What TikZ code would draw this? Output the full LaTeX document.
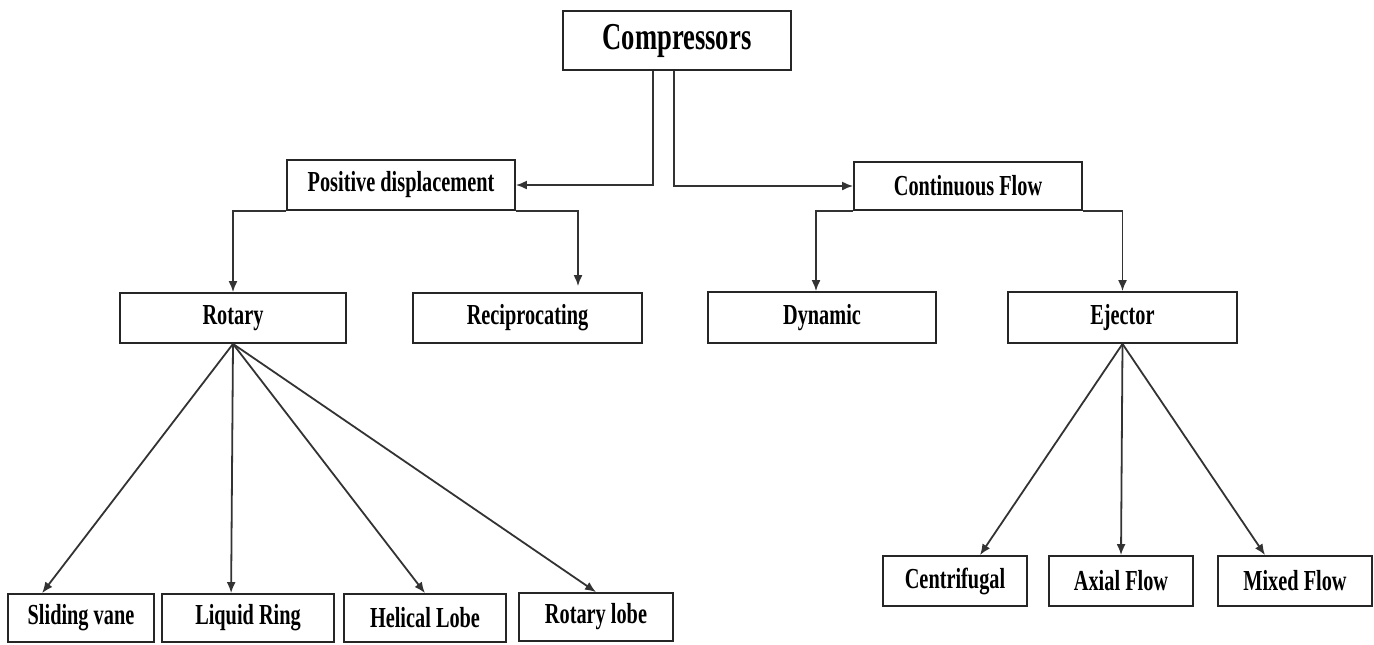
\documentclass[tikz,border=0pt]{standalone}
\usepackage{fontspec}
\setmainfont{Liberation Serif}[FakeStretch=0.7]
\usetikzlibrary{calc,arrows.meta}
\begin{document}
\begin{tikzpicture}[x=0.5pt,y=-0.5pt,
  box/.style={draw=black!85,line width=0.9pt,rectangle,inner sep=0pt,
    font=\fontsize{14.5}{16}\selectfont\bfseries,text=black},
  arr/.style={draw=black!80,line width=0.9pt,-{Latex[length=5.5pt,width=4.5pt]}},
  ln/.style={draw=black!80,line width=0.9pt}]
\useasboundingbox (0,0) rectangle (1374,644);
% nodes
\node[box,minimum width=114pt,minimum height=29.5pt,font=\fontsize{19}{22}\selectfont\bfseries] (comp) at (677,40.5) {Compressors};
\node[box,minimum width=114pt,minimum height=25pt] (pd) at (401,185) {Positive displacement};
\node[box,minimum width=114pt,minimum height=24pt] (cf) at (968,186) {Continuous Flow};
\node[box,minimum width=113pt,minimum height=25pt] (rot) at (233,318) {Rotary};
\node[box,minimum width=114.5pt,minimum height=25pt] (rec) at (527.5,318) {Reciprocating};
\node[box,minimum width=114pt,minimum height=25.5pt] (dyn) at (822,317.5) {Dynamic};
\node[box,minimum width=114.5pt,minimum height=25.5pt] (ej) at (1122.5,317.5) {Ejector};
\node[box,minimum width=73pt,minimum height=24pt] (sv) at (81,618) {Sliding vane};
\node[box,minimum width=86pt,minimum height=24pt] (lr) at (248,618) {Liquid Ring};
\node[box,minimum width=81pt,minimum height=24pt] (hl) at (425,618) {Helical Lobe};
\node[box,minimum width=77pt,minimum height=24pt] (rl) at (596,617) {Rotary lobe};
\node[box,minimum width=72pt,minimum height=25pt] (cen) at (955,581) {Centrifugal};
\node[box,minimum width=72pt,minimum height=25pt] (ax) at (1121,581) {Axial Flow};
\node[box,minimum width=77pt,minimum height=25pt] (mx) at (1295,581) {Mixed Flow};
% level 1
\draw[arr] ($(comp.south)+(-24,0)$) |- (pd.east);
\draw[arr] ($(comp.south)+(-3,0)$) |- (cf.west);
% level 2
\draw[arr] (pd.south west) -| (rot.north);
\draw[arr] (pd.south east) -| ($(rec.north)+(50.5,-6)$);
\draw[arr] (cf.south west) -| ($(dyn.north)+(-6,0)$);
\draw[arr] (cf.south east) -| (ej.north);
% rotary fan
\draw[arr] (rot.south) -- ($(sv.north west)+(35,0)$);
\draw[arr] (rot.south) -- ($(lr.north west)+(70,0)$);
\draw[arr] (rot.south) -- (hl.north);
\draw[arr] (rot.south) -- (rl.north);
% ejector fan
\draw[arr] (ej.south) -- ($(cen.north)+(25,0)$);
\draw[arr] (ej.south) -- (ax.north);
\draw[arr] (ej.south) -- ($(mx.north)+(-30,0)$);
\end{tikzpicture}
\end{document}
